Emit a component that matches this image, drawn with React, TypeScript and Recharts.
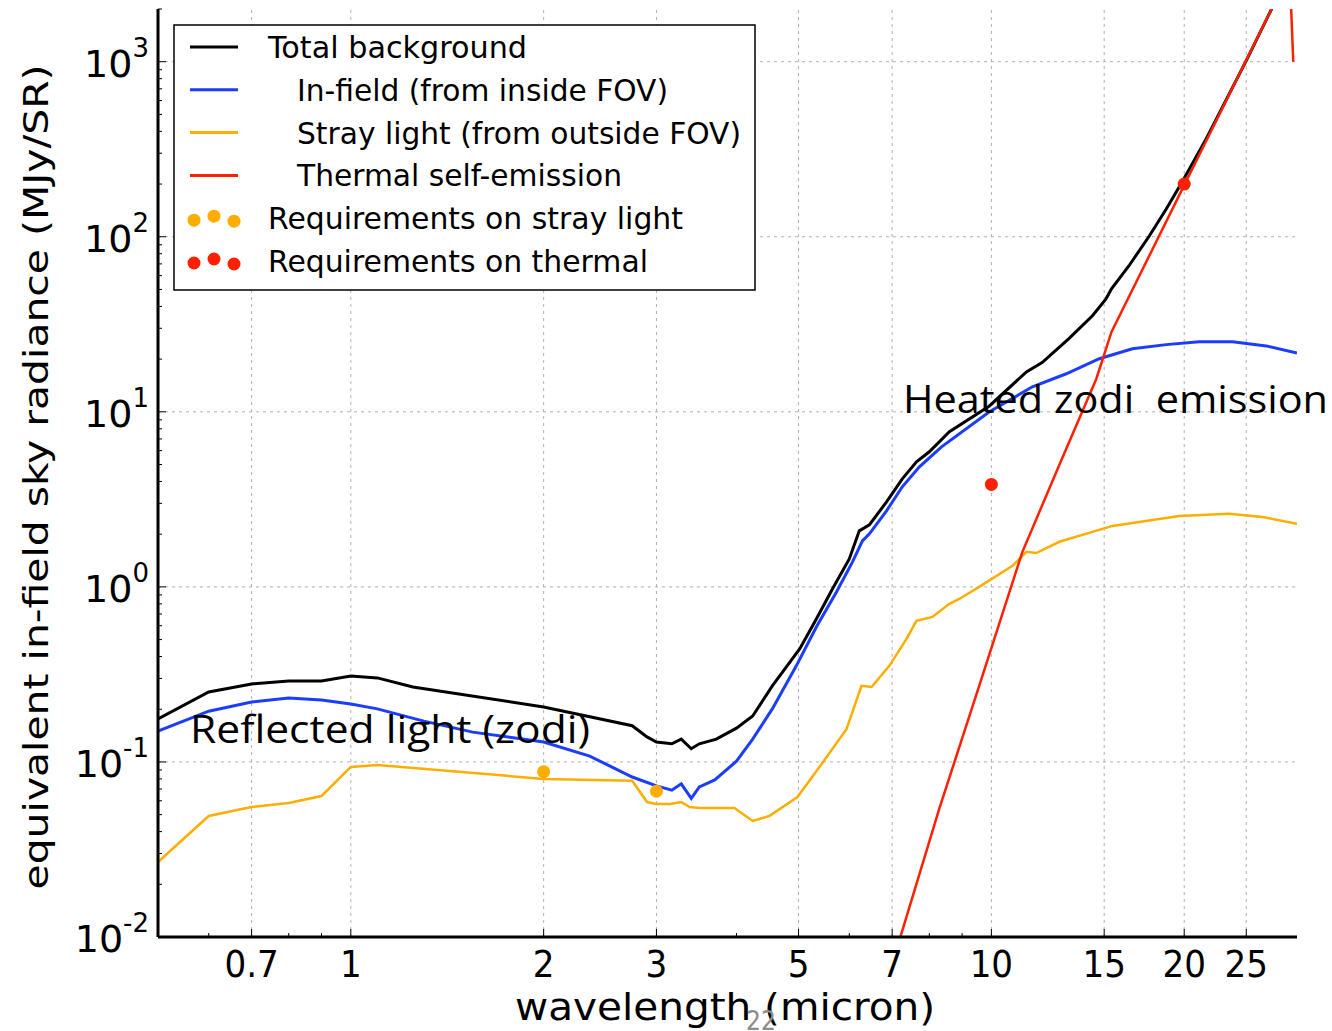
import React from "react";
import { ComposedChart, Line, Scatter, XAxis, YAxis, ReferenceLine } from "recharts";

// wavelength (micron) / radiance (MJy/SR)
const totalWl = [0.5, 0.6, 0.7, 0.8, 0.9, 1.0, 1.1, 1.25, 2.0, 2.75, 2.9, 3.0, 3.17, 3.28, 3.4, 3.5, 3.72, 4.0, 4.24, 4.55, 5.02, 5.33, 5.65, 6.0, 6.22, 6.45, 6.86, 7.26, 7.64, 8.0, 8.6, 9.93, 11.34, 12.0, 13.2, 14.38, 15.1, 15.4, 16.4, 17.64, 18.75, 19.86, 21.65, 25.0, 27.4, 30];
const totalVal = [0.176, 0.251, 0.279, 0.29, 0.29, 0.31, 0.302, 0.268, 0.206, 0.161, 0.139, 0.13, 0.127, 0.135, 0.119, 0.127, 0.135, 0.156, 0.183, 0.272, 0.442, 0.656, 0.975, 1.445, 2.09, 2.26, 3.06, 4.14, 5.18, 5.91, 7.69, 10.8, 16.9, 19.1, 26.1, 35.4, 44.2, 50.4, 68.3, 101, 144, 206, 363, 1014, 2010, 3700];

const infieldWl = [0.5, 0.6, 0.7, 0.8, 0.9, 1.0, 1.1, 1.3, 1.55, 2.0, 2.36, 2.75, 3.0, 3.17, 3.28, 3.4, 3.5, 3.7, 4.0, 4.24, 4.55, 4.96, 5.33, 5.73, 6.07, 6.29, 6.45, 6.86, 7.26, 7.72, 8.36, 9.93, 11.59, 13.09, 14.74, 16.6, 18.75, 21.1, 23.8, 26.85, 30];
const infieldVal = [0.15, 0.195, 0.22, 0.232, 0.226, 0.214, 0.201, 0.171, 0.148, 0.13, 0.108, 0.082, 0.073, 0.069, 0.075, 0.062, 0.072, 0.079, 0.101, 0.135, 0.201, 0.354, 0.59, 0.936, 1.39, 1.83, 2.01, 2.72, 3.73, 4.85, 6.31, 10.0, 13.9, 16.5, 20.1, 22.9, 24.2, 25.1, 25.1, 23.8, 21.7];

const strayWl = [0.5, 0.6, 0.7, 0.8, 0.9, 1.0, 1.1, 2.0, 2.75, 2.9, 3.0, 3.15, 3.28, 3.38, 3.5, 3.97, 4.24, 4.5, 4.98, 5.39, 5.94, 6.27, 6.5, 6.93, 7.37, 7.64, 8.09, 8.6, 8.91, 9.57, 10.79, 11.34, 11.75, 12.77, 15.45, 19.65, 23.5, 26.5, 30];
const strayVal = [0.0268, 0.0491, 0.0553, 0.0583, 0.0639, 0.0936, 0.0962, 0.08, 0.078, 0.059, 0.0575, 0.0575, 0.059, 0.0553, 0.0546, 0.0546, 0.046, 0.0491, 0.063, 0.0936, 0.154, 0.272, 0.268, 0.354, 0.505, 0.64, 0.674, 0.8, 0.853, 1.0, 1.318, 1.585, 1.56, 1.81, 2.23, 2.54, 2.62, 2.51, 2.29];

const thermalWl = [7.0, 8.3, 9.65, 11.18, 12.77, 14.58, 15.4, 17.64, 20.2, 27.4, 29.2, 29.6];
const thermalVal = [0.007, 0.0546, 0.298, 1.585, 4.98, 15.4, 28.6, 77.9, 212, 2010, 3500, 1000];

const strayReqWl = [2, 3];
const strayReqVal = [0.088, 0.068];
const thermalReqWl = [10, 20];
const thermalReqVal = [3.85, 200];

const xTicks = [0.7, 1, 2, 3, 5, 7, 10, 15, 20, 25];
const xMinor = [0.6, 0.8, 0.9, 4, 6, 8, 9];
const yTicks = [0.01, 0.1, 1, 10, 100, 1000];
const yExp = ["-2", "-1", "0", "1", "2", "3"];
const yMinor = [0.02, 0.03, 0.04, 0.05, 0.06, 0.07, 0.08, 0.09, 0.2, 0.3, 0.4, 0.5, 0.6, 0.7, 0.8, 0.9, 2, 3, 4, 5, 6, 7, 8, 9, 20, 30, 40, 50, 60, 70, 80, 90, 200, 300, 400, 500, 600, 700, 800, 900, 2000];

const legendItems = [
  { label: "Total background", color: "#000000", kind: "line", indent: false, len: 259 },
  { label: "In-field (from inside FOV)", color: "#1a3dff", kind: "line", indent: true, len: 371 },
  { label: "Stray light (from outside FOV)", color: "#ffad00", kind: "line", indent: true, len: 444 },
  { label: "Thermal self-emission", color: "#ff2000", kind: "line", indent: true, len: 325 },
  { label: "Requirements on stray light", color: "#ffad00", kind: "dots", indent: false, len: 415 },
  { label: "Requirements on thermal", color: "#ff2000", kind: "dots", indent: false, len: 380 },
];

const zip = (xs: number[], ys: number[]) => xs.map((wl, i) => ({ wl, v: ys[i] }));

const totalData = zip(totalWl, totalVal);
const infieldData = zip(infieldWl, infieldVal);
const strayData = zip(strayWl, strayVal);
const thermalData = zip(thermalWl, thermalVal);
const strayReqData = zip(strayReqWl, strayReqVal);
const thermalReqData = zip(thermalReqWl, thermalReqVal);

const condensed = "'DejaVu Sans Condensed', 'DejaVu Sans', sans-serif";
const frame = { stroke: "#000", strokeWidth: 3 };

const BottomTick = ({ x, y, payload }: any) => {
  const major = xTicks.includes(payload.value);
  return (
    <g>
      <line x1={x} x2={x} y1={y} y2={y - (major ? 8 : 4)} stroke="#000" />
      {major && (
        <text x={x} y={y + 40} textAnchor="middle" fontSize={38} fontFamily={condensed} fill="#000">
          {payload.value}
        </text>
      )}
    </g>
  );
};

const TopTick = ({ x, y, payload }: any) => {
  const major = xTicks.includes(payload.value);
  return <line x1={x} x2={x} y1={y} y2={y + (major ? 8 : 4)} stroke="#000" />;
};

const LeftTick = ({ x, y, payload }: any) => {
  const i = yTicks.indexOf(payload.value);
  return (
    <g>
      <line x1={x} x2={x + (i >= 0 ? 8 : 4)} y1={y} y2={y} stroke="#000" />
      {i >= 0 && (
        <text x={x - 9} y={y + 15} textAnchor="end" fontFamily="'DejaVu Sans', sans-serif" fill="#000">
          <tspan fontSize={38}>10</tspan>
          <tspan fontSize={26} dy={-20}>{yExp[i]}</tspan>
        </text>
      )}
    </g>
  );
};

const RightTick = ({ x, y, payload }: any) => {
  const major = yTicks.includes(payload.value);
  return <line x1={x} x2={x - (major ? 8 : 4)} y1={y} y2={y} stroke="#000" />;
};

const dot = (color: string) => (p: any) => <circle cx={p.cx} cy={p.cy} r={6.5} fill={color} />;

export default function App() {
  return (
    <div style={{ position: "absolute", left: 0, top: 0, width: 1332, height: 1031, background: "#fff" }}>
      <ComposedChart width={1332} height={1031} margin={{ top: 9, right: 35, left: 0, bottom: 0 }}>
        <XAxis
          dataKey="wl"
          type="number"
          scale="log"
          domain={[0.5, 30]}
          allowDataOverflow
          ticks={[...xTicks, ...xMinor]}
          interval={0}
          height={94}
          tickSize={0}
          tickMargin={0}
          tickLine={false}
          axisLine={frame}
          tick={<BottomTick />}
        />
        <XAxis
          xAxisId="top"
          orientation="top"
          type="number"
          scale="log"
          domain={[0.5, 30]}
          allowDataOverflow
          ticks={[...xTicks, ...xMinor]}
          interval={0}
          height={0}
          tickSize={0}
          tickMargin={0}
          tickLine={false}
          axisLine={frame}
          tick={<TopTick />}
        />
        <YAxis
          dataKey="v"
          type="number"
          scale="log"
          domain={[0.01, 2000]}
          allowDataOverflow
          ticks={[...yTicks, ...yMinor]}
          interval={0}
          width={158}
          tickSize={0}
          tickMargin={0}
          tickLine={false}
          axisLine={frame}
          tick={<LeftTick />}
        />
        <YAxis
          yAxisId="right"
          orientation="right"
          type="number"
          scale="log"
          domain={[0.01, 2000]}
          allowDataOverflow
          ticks={[...yTicks, ...yMinor]}
          interval={0}
          width={0}
          tickSize={0}
          tickMargin={0}
          tickLine={false}
          axisLine={frame}
          tick={<RightTick />}
        />
        {xTicks.map((t) => (
          <ReferenceLine key={"gx" + t} x={t} stroke="#b0b0b0" strokeDasharray="3 4" />
        ))}
        {yTicks.map((t) => (
          <ReferenceLine key={"gy" + t} y={t} stroke="#b0b0b0" strokeDasharray="3 4" />
        ))}
        <Line data={totalData} dataKey="v" stroke="#000000" strokeWidth={3} dot={false} isAnimationActive={false} />
        <Line data={infieldData} dataKey="v" stroke="#1a3dff" strokeWidth={3} dot={false} isAnimationActive={false} />
        <Line data={strayData} dataKey="v" stroke="#ffad00" strokeWidth={2.5} dot={false} isAnimationActive={false} />
        <Line data={thermalData} dataKey="v" stroke="#ff2000" strokeWidth={2.5} dot={false} isAnimationActive={false} />
        <Scatter data={strayReqData} dataKey="v" shape={dot("#ffad00")} isAnimationActive={false} />
        <Scatter data={thermalReqData} dataKey="v" shape={dot("#ff2000")} isAnimationActive={false} />
      </ComposedChart>
      <svg width={1332} height={1031} style={{ position: "absolute", left: 0, top: 0, pointerEvents: "none" }}>
        <g>
          <rect x={174} y={25} width={581} height={265} fill="#fff" stroke="#000" strokeWidth={1.5} />
          {legendItems.map((it, i) => {
            const cy = 47 + i * 42.8;
            return (
              <g key={it.label}>
                {it.kind === "line" ? (
                  <line x1={190} x2={238} y1={cy} y2={cy} stroke={it.color} strokeWidth={3} />
                ) : (
                  <g fill={it.color}>
                    <circle cx={194} cy={cy + 2} r={6.5} />
                    <circle cx={214} cy={cy - 2} r={6.5} />
                    <circle cx={234} cy={cy + 3} r={6.5} />
                  </g>
                )}
                <text
                  x={it.indent ? 297 : 268}
                  y={cy + 11}
                  fontSize={30}
                  fontFamily="'DejaVu Sans', sans-serif"
                  textLength={it.len}
                  lengthAdjust="spacingAndGlyphs"
                  fill="#000"
                >
                  {it.label}
                </text>
              </g>
            );
          })}
        </g>
        <text x={190} y={743} fontSize={39} fontFamily="'Open Sans', sans-serif" textLength={400} lengthAdjust="spacingAndGlyphs" fill="#000">
          Reflected light (zodi)
        </text>
        <text
          x={903}
          y={413}
          fontSize={39}
          fontFamily="'Open Sans', sans-serif"
          textLength={425}
          lengthAdjust="spacingAndGlyphs"
          fill="#000"
          style={{ whiteSpace: "pre" }}
        >
          {"Heated zodi  emission"}
        </text>
        <text
          transform="translate(48 477) rotate(-90)"
          textAnchor="middle"
          fontSize={34}
          fontFamily={condensed}
          textLength={825}
          lengthAdjust="spacingAndGlyphs"
          fill="#000"
        >
          equivalent in-field sky radiance (MJy/SR)
        </text>
        <text x={725} y={1020} textAnchor="middle" fontSize={38} fontFamily={condensed} textLength={420} lengthAdjust="spacingAndGlyphs" fill="#000">
          wavelength (micron)
        </text>
        <text x={761} y={1030} textAnchor="middle" fontSize={26} fontFamily={condensed} fill="#8c8c8c">
          22
        </text>
      </svg>
    </div>
  );
}
